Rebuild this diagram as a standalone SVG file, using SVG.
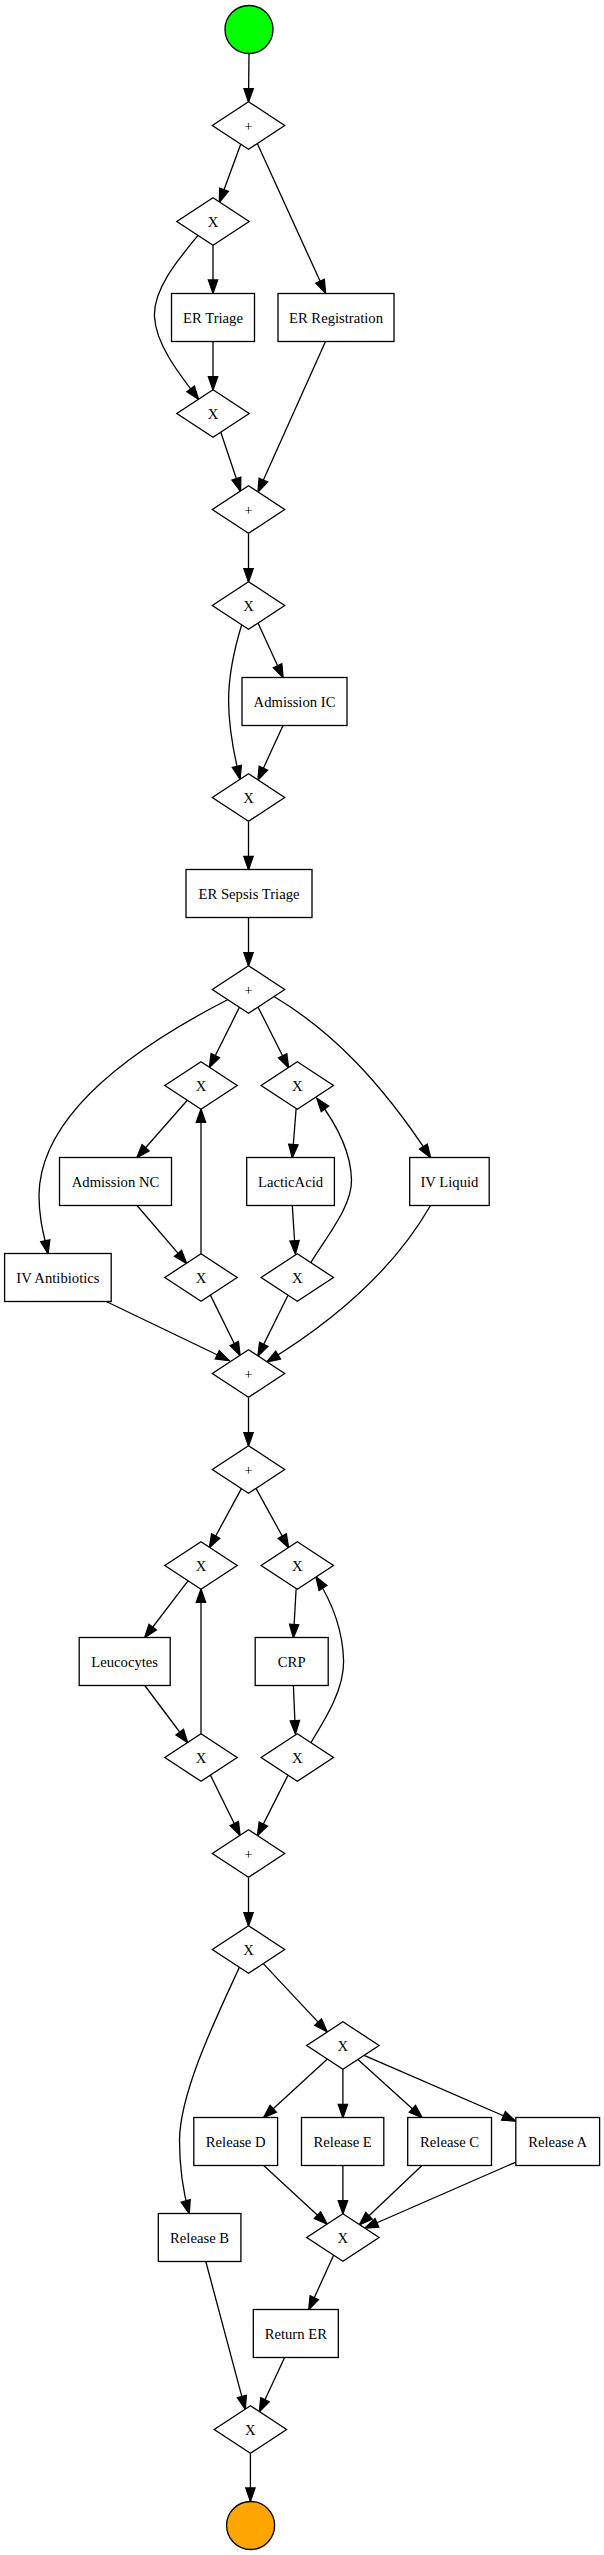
<svg xmlns="http://www.w3.org/2000/svg" width="604" height="2555" viewBox="0 0 604 2555">
<style>
.g{fill:#fff;stroke:#000;stroke-width:1.3}
.b{fill:#fff;stroke:#000;stroke-width:1.3}
.t{font-family:"Liberation Serif","Times New Roman",serif;font-size:14.67px;text-anchor:middle;fill:#000}
.e path{fill:none;stroke:#000;stroke-width:1.3;marker-end:url(#ah)}
</style>
<defs>
<marker id="ah" markerUnits="userSpaceOnUse" markerWidth="16" markerHeight="12" viewBox="0 0 16 12" refX="13" refY="4.67" orient="auto" overflow="visible">
<path d="M0,0 L13.3,4.67 L0,9.33 Z" fill="#000" stroke="#000" stroke-width="1.3"/>
</marker>
</defs>
<rect width="604" height="2555" fill="#fff"/>
<g class="e" id="connectors">
<path d="M249,53.5 L248.5,101.7"/>
<path d="M240.7,144.2 L219.5,202"/>
<path d="M257.3,143.5 L325.5,293"/>
<path d="M213,245.3 L213,293"/>
<path d="M198,235.4 C176,262 153,290 154.5,317 C156,345 180,375 198.5,399.2"/>
<path d="M213,341.5 L213,389.7"/>
<path d="M220.8,432.2 L240.5,491"/>
<path d="M325.5,341.5 L258,492"/>
<path d="M248.5,533.3 L248.5,581.7"/>
<path d="M258,623 L283,677.5"/>
<path d="M241.7,624.8 C234,650 228.5,675 228.6,701 C228.7,730 234,755 240,779"/>
<path d="M283,725.5 L258,780"/>
<path d="M248.5,821.3 L248.5,869.5"/>
<path d="M248.5,917.5 L248.5,965.7"/>
<path d="M239.4,1007.3 L209.5,1067.3"/>
<path d="M258,1007 L288.5,1067.5"/>
<path d="M228,999.5 C120,1055 40,1120 39,1195 C39,1220 44,1235 48,1253.5"/>
<path d="M274,996.5 C330,1030 380,1080 430.5,1157.5"/>
<path d="M187.3,1100.3 L137,1157.5"/>
<path d="M296.1,1109 L292.3,1157.5"/>
<path d="M137,1205.5 L186.5,1263.2"/>
<path d="M201,1253.7 L201,1109.3"/>
<path d="M292.3,1205.5 L295.4,1253.7"/>
<path d="M310.8,1262.6 C330,1232 352,1205 351.5,1180 C351,1150 335,1122 317,1098.5"/>
<path d="M430.5,1205.5 C405,1250 360,1305 267,1361.8"/>
<path d="M106.2,1301.5 L229,1360.5"/>
<path d="M210.4,1295.1 L240,1355.3"/>
<path d="M288,1295.2 L258,1355.9"/>
<path d="M248.5,1397.3 L248.5,1445.7"/>
<path d="M241.4,1488.6 L209.5,1547.5"/>
<path d="M256,1488.4 L288.5,1547.5"/>
<path d="M188,1580.8 L144.8,1637.5"/>
<path d="M296.1,1589.3 L293.4,1637.5"/>
<path d="M144.8,1685.5 L187.5,1742.5"/>
<path d="M201,1733.7 L201,1589.3"/>
<path d="M293.4,1685.5 L295.4,1733.7"/>
<path d="M310.8,1742.8 C328,1715 344,1688 343.6,1661 C343,1632 332,1602 316,1577"/>
<path d="M210.4,1775.1 L240,1835.3"/>
<path d="M288,1775.2 L257.5,1835.6"/>
<path d="M248.5,1877.3 L248.5,1925.7"/>
<path d="M239.4,1967.3 C220,2010 180,2090 179.5,2140 C179.5,2170 184,2195 189.2,2213.5"/>
<path d="M263.3,1963.6 L327,2031.6"/>
<path d="M327.4,2059.1 L263.7,2117.5"/>
<path d="M342.9,2069.3 L342.9,2117.5"/>
<path d="M357.9,2059.4 L422,2117.5"/>
<path d="M364.1,2055.4 L515.4,2121"/>
<path d="M263.7,2165.5 L327,2224"/>
<path d="M342.9,2165.5 L342.9,2213.7"/>
<path d="M422,2165.5 L359.5,2224.7"/>
<path d="M515.4,2162.3 L365,2228"/>
<path d="M333.6,2255.2 L308.9,2309.5"/>
<path d="M205.8,2261.5 L245.2,2409.1"/>
<path d="M284.6,2357.5 L259.5,2411.5"/>
<path d="M250.4,2453.3 L250.4,2501"/>
</g>
<g id="start"><circle cx="249" cy="29.5" r="24" fill="#00ff00" stroke="#000" stroke-width="1.3"/></g>
<g id="p1"><polygon class="g" points="248.5,101.7 284.7,125.5 248.5,149.3 212.3,125.5"/><text class="t" x="248.5" y="130.9">+</text></g>
<g id="x2"><polygon class="g" points="213,197.7 249.2,221.5 213,245.3 176.8,221.5"/><text class="t" x="213" y="226.9">X</text></g>
<g id="er_triage"><rect class="b" x="171.5" y="293.5" width="83" height="48"/><text class="t" x="213" y="322.9">ER Triage</text></g>
<g id="er_registration"><rect class="b" x="278" y="293.5" width="116" height="48"/><text class="t" x="336" y="322.9">ER Registration</text></g>
<g id="x3"><polygon class="g" points="213,389.7 249.2,413.5 213,437.3 176.8,413.5"/><text class="t" x="213" y="418.9">X</text></g>
<g id="p4"><polygon class="g" points="248.5,485.7 284.7,509.5 248.5,533.3 212.3,509.5"/><text class="t" x="248.5" y="514.9">+</text></g>
<g id="x5"><polygon class="g" points="248.5,581.7 284.7,605.5 248.5,629.3 212.3,605.5"/><text class="t" x="248.5" y="610.9">X</text></g>
<g id="admission_ic"><rect class="b" x="242" y="677.5" width="105" height="48"/><text class="t" x="294.5" y="706.9">Admission IC</text></g>
<g id="x6"><polygon class="g" points="248.5,773.7 284.7,797.5 248.5,821.3 212.3,797.5"/><text class="t" x="248.5" y="802.9">X</text></g>
<g id="er_sepsis_triage"><rect class="b" x="186" y="869.5" width="126" height="48"/><text class="t" x="249" y="898.9">ER Sepsis Triage</text></g>
<g id="p7"><polygon class="g" points="248.5,965.7 284.7,989.5 248.5,1013.3 212.3,989.5"/><text class="t" x="248.5" y="994.9">+</text></g>
<g id="x8"><polygon class="g" points="201,1061.7 237.2,1085.5 201,1109.3 164.8,1085.5"/><text class="t" x="201" y="1090.9">X</text></g>
<g id="x9"><polygon class="g" points="297.3,1061.7 333.5,1085.5 297.3,1109.3 261.1,1085.5"/><text class="t" x="297.3" y="1090.9">X</text></g>
<g id="admission_nc"><rect class="b" x="59.5" y="1157.5" width="112" height="48"/><text class="t" x="115.5" y="1186.9">Admission NC</text></g>
<g id="lacticacid"><rect class="b" x="246.7" y="1157.5" width="87.7" height="48"/><text class="t" x="290.5" y="1186.9">LacticAcid</text></g>
<g id="iv_liquid"><rect class="b" x="409.7" y="1157.5" width="79.5" height="48"/><text class="t" x="449.4" y="1186.9">IV Liquid</text></g>
<g id="iv_antibiotics"><rect class="b" x="4.6" y="1253.5" width="106.6" height="48"/><text class="t" x="57.9" y="1282.9">IV Antibiotics</text></g>
<g id="x10"><polygon class="g" points="201,1253.7 237.2,1277.5 201,1301.3 164.8,1277.5"/><text class="t" x="201" y="1282.9">X</text></g>
<g id="x11"><polygon class="g" points="297.3,1253.7 333.5,1277.5 297.3,1301.3 261.1,1277.5"/><text class="t" x="297.3" y="1282.9">X</text></g>
<g id="p12"><polygon class="g" points="248.5,1349.7 284.7,1373.5 248.5,1397.3 212.3,1373.5"/><text class="t" x="248.5" y="1378.9">+</text></g>
<g id="p13"><polygon class="g" points="248.5,1445.7 284.7,1469.5 248.5,1493.3 212.3,1469.5"/><text class="t" x="248.5" y="1474.9">+</text></g>
<g id="x14"><polygon class="g" points="201,1541.7 237.2,1565.5 201,1589.3 164.8,1565.5"/><text class="t" x="201" y="1570.9">X</text></g>
<g id="x15"><polygon class="g" points="297.3,1541.7 333.5,1565.5 297.3,1589.3 261.1,1565.5"/><text class="t" x="297.3" y="1570.9">X</text></g>
<g id="leucocytes"><rect class="b" x="79.2" y="1637.5" width="91" height="48"/><text class="t" x="124.7" y="1666.9">Leucocytes</text></g>
<g id="crp"><rect class="b" x="255.2" y="1637.5" width="73" height="48"/><text class="t" x="291.7" y="1666.9">CRP</text></g>
<g id="x16"><polygon class="g" points="201,1733.7 237.2,1757.5 201,1781.3 164.8,1757.5"/><text class="t" x="201" y="1762.9">X</text></g>
<g id="x17"><polygon class="g" points="297.3,1733.7 333.5,1757.5 297.3,1781.3 261.1,1757.5"/><text class="t" x="297.3" y="1762.9">X</text></g>
<g id="p18"><polygon class="g" points="248.5,1829.7 284.7,1853.5 248.5,1877.3 212.3,1853.5"/><text class="t" x="248.5" y="1858.9">+</text></g>
<g id="x19"><polygon class="g" points="248.5,1925.7 284.7,1949.5 248.5,1973.3 212.3,1949.5"/><text class="t" x="248.5" y="1954.9">X</text></g>
<g id="x20"><polygon class="g" points="342.9,2021.7 379.1,2045.5 342.9,2069.3 306.7,2045.5"/><text class="t" x="342.9" y="2050.9">X</text></g>
<g id="release_d"><rect class="b" x="193.8" y="2117.5" width="83.8" height="48"/><text class="t" x="235.7" y="2146.9">Release D</text></g>
<g id="release_e"><rect class="b" x="301.5" y="2117.5" width="82.3" height="48"/><text class="t" x="342.7" y="2146.9">Release E</text></g>
<g id="release_c"><rect class="b" x="407.7" y="2117.5" width="83.8" height="48"/><text class="t" x="449.6" y="2146.9">Release C</text></g>
<g id="release_a"><rect class="b" x="515.8" y="2117.5" width="83.8" height="48"/><text class="t" x="557.7" y="2146.9">Release A</text></g>
<g id="release_b"><rect class="b" x="158.3" y="2213.5" width="82.6" height="48"/><text class="t" x="199.6" y="2242.9">Release B</text></g>
<g id="x21"><polygon class="g" points="342.9,2213.7 379.1,2237.5 342.9,2261.3 306.7,2237.5"/><text class="t" x="342.9" y="2242.9">X</text></g>
<g id="return_er"><rect class="b" x="253.3" y="2309.5" width="85" height="48"/><text class="t" x="295.8" y="2338.9">Return ER</text></g>
<g id="x22"><polygon class="g" points="250.4,2405.7 286.6,2429.5 250.4,2453.3 214.2,2429.5"/><text class="t" x="250.4" y="2434.9">X</text></g>
<g id="end"><circle cx="250.6" cy="2525.5" r="24" fill="#ffa500" stroke="#000" stroke-width="1.3"/></g>
</svg>
